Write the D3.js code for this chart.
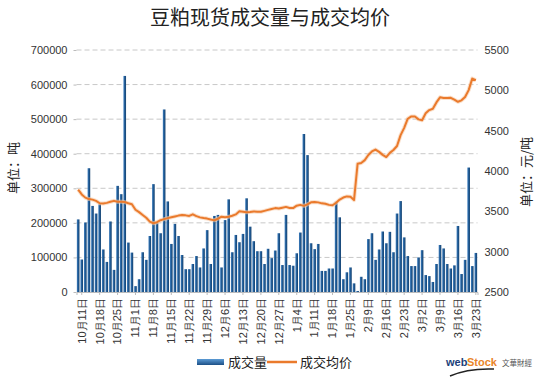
<!DOCTYPE html>
<html><head><meta charset="utf-8">
<script src="https://cdn.jsdelivr.net/npm/d3@7"></script>
<style>
body{margin:0;background:#fff;}
svg{display:block;font-family:"Noto Sans CJK SC","Noto Sans",sans-serif;}
</style></head>
<body><svg id="c" width="542" height="382"></svg>
<script>
const volume = [210000,94000,201000,358000,249000,227000,254000,123000,87000,204000,
64000,307000,283000,625000,143000,114000,17000,37000,115000,93000,
162000,312000,199000,170000,528000,262000,139000,197000,162000,107000,
66000,66000,81000,104000,71000,126000,179000,81000,220000,223000,
71000,208000,268000,115000,165000,144000,168000,271000,189000,147000,
118000,118000,81000,125000,98000,120000,170000,78000,223000,78000,
76000,112000,172000,457000,396000,141000,124000,139000,61000,61000,
68000,68000,261000,216000,37000,57000,71000,25000,3000,44000,
37000,153000,170000,93000,123000,175000,141000,174000,115000,227000,
263000,158000,104000,75000,75000,100000,121000,49000,46000,29000,
81000,136000,126000,81000,68000,77000,191000,52000,93000,360000,
75000,113000];
const price = [3770,3710,3670,3652,3645,3630,3600,3598,3605,3618,
3630,3618,3620,3615,3600,3588,3520,3490,3455,3420,
3372,3352,3365,3390,3403,3416,3426,3437,3447,3455,
3450,3443,3463,3440,3425,3417,3410,3398,3388,3408,
3433,3428,3432,3445,3462,3500,3495,3490,3492,3498,
3496,3494,3506,3518,3530,3540,3535,3545,3555,3542,
3540,3570,3580,3568,3586,3612,3616,3611,3599,3593,
3580,3575,3607,3646,3671,3685,3682,3640,4090,4100,
4135,4198,4242,4265,4237,4200,4173,4225,4260,4310,
4445,4535,4648,4677,4675,4640,4630,4715,4755,4771,
4850,4913,4904,4906,4908,4884,4858,4876,4918,5003,
5145,5125];
const tickLabels = ["10月11日","10月18日","10月25日","11月1日","11月8日","11月15日","11月22日","11月29日",
"12月6日","12月13日","12月20日","12月27日","1月4日","1月11日","1月18日","1月25日",
"2月9日","2月16日","2月23日","3月2日","3月9日","3月16日","3月23日"];
const leftTicks = [0,100000,200000,300000,400000,500000,600000,700000];
const rightTicks = [2500,3000,3500,4000,4500,5000,5500];
const title = "豆粕现货成交量与成交均价";
const seriesNames = ["成交量","成交均价"];

const svg = d3.select("#c");
const L = 76.5, R = 477.5, T = 50, B = 292;
const idx = d3.range(volume.length);
const x = d3.scaleBand().domain(idx).range([L, R]).paddingInner(0.27).paddingOuter(0.1);
const yL = d3.scaleLinear().domain([0, 700000]).range([B, T]);
const yR = d3.scaleLinear().domain([2500, 5500]).range([B, T]);

const defs = svg.append("defs");
const g1 = defs.append("linearGradient").attr("id","barG").attr("x1","0").attr("x2","1").attr("y1","0").attr("y2","0");
g1.append("stop").attr("offset","0").attr("stop-color","#3f7fbf");
g1.append("stop").attr("offset","0.5").attr("stop-color","#1f5a94");
g1.append("stop").attr("offset","1").attr("stop-color","#17426e");
const g2 = defs.append("linearGradient").attr("id","legG").attr("x1","0").attr("x2","0").attr("y1","0").attr("y2","1");
g2.append("stop").attr("offset","0").attr("stop-color","#5b9bd5");
g2.append("stop").attr("offset","1").attr("stop-color","#1c4f86");

// title
svg.append("text").attr("x", 270).attr("y", 25).attr("text-anchor","middle")
  .attr("font-size", 20).attr("fill","#222").text(title);

// gridlines
svg.append("g").selectAll("line").data(leftTicks.filter(d=>d>0)).join("line")
  .attr("x1", L).attr("x2", R).attr("y1", d=>yL(d)).attr("y2", d=>yL(d))
  .attr("stroke","#c8c8c8").attr("stroke-dasharray","5,3").attr("stroke-width",1);

// left axis
const axL = d3.axisLeft(yL).tickValues(leftTicks).tickFormat(d3.format("d")).tickSize(3).tickPadding(6);
const gL = svg.append("g").attr("transform",`translate(${L},0)`).call(axL);
gL.select(".domain").remove();
gL.selectAll("line").attr("stroke","#bbb");
gL.selectAll("text").attr("font-size",11).attr("fill","#333").attr("font-family","Arial, 'Liberation Sans', sans-serif");

// right axis
const axR = d3.axisRight(yR).tickValues(rightTicks).tickFormat(d3.format("d")).tickSize(0).tickPadding(7);
const gR = svg.append("g").attr("transform",`translate(${R},0)`).call(axR);
gR.select(".domain").remove();
gR.selectAll("text").attr("font-size",11).attr("fill","#333").attr("font-family","Arial, 'Liberation Sans', sans-serif");

// bars
svg.append("g").selectAll("rect").data(idx).join("rect")
  .attr("x", i=>x(i)).attr("width", x.bandwidth())
  .attr("y", i=>yL(volume[i])).attr("height", i=>B - yL(volume[i]))
  .attr("fill","url(#barG)");

// x axis
const tickIdx = tickLabels.map((_, k) => 1 + 5*k);
const axX = d3.axisBottom(x).tickValues(tickIdx).tickFormat((d)=>tickLabels[(d-1)/5]).tickSize(3).tickPadding(2);
const gX = svg.append("g").attr("transform",`translate(0,${B})`).call(axX);
gX.select(".domain").attr("stroke","#bbb");
gX.selectAll("line").attr("stroke","#bbb");
gX.selectAll("text").attr("font-size",11).attr("fill","#333")
  .attr("transform","rotate(-90)").attr("text-anchor","end")
  .attr("x",-6).attr("y",0).attr("dy","0.35em");

// line
const line = d3.line().x((d,i)=>x(i)+x.bandwidth()/2).y(d=>yR(d));
svg.append("path").datum(price).attr("d",line).attr("fill","none")
  .attr("stroke","#f6c9a6").attr("stroke-width",4).attr("stroke-opacity",0.6).attr("stroke-linejoin","round");
svg.append("path").datum(price).attr("d",line).attr("fill","none")
  .attr("stroke","#ea7a2c").attr("stroke-width",2).attr("stroke-linejoin","round");

// axis titles
svg.append("text").attr("transform","translate(18,168) rotate(-90)").attr("text-anchor","middle")
  .attr("font-size",13).attr("fill","#222").text("单位：吨");
svg.append("text").attr("transform","translate(531,172) rotate(-90)").attr("text-anchor","middle")
  .attr("font-size",13).attr("fill","#222").text("单位：元/吨");

// legend
const lg = svg.append("g");
lg.append("rect").attr("x",197).attr("y",359).attr("width",27).attr("height",6).attr("fill","url(#legG)");
lg.append("text").attr("x",228).attr("y",367).attr("font-size",13).attr("fill","#222").text(seriesNames[0]);
lg.append("line").attr("x1",267).attr("x2",297).attr("y1",362).attr("y2",362).attr("stroke","#ea7a2c").attr("stroke-width",2.5);
lg.append("text").attr("x",300).attr("y",367).attr("font-size",13).attr("fill","#222").text(seriesNames[1]);

// watermark
const wm = svg.append("g");
wm.append("text").attr("x",446).attr("y",366).attr("font-size",11).attr("font-weight","bold")
  .attr("font-family","Arial, 'Liberation Sans', sans-serif").attr("fill","#1c3f7a").text("web");
wm.append("text").attr("x",467).attr("y",366).attr("font-size",11).attr("font-weight","bold")
  .attr("font-family","Arial, 'Liberation Sans', sans-serif").attr("fill","#e9852a").text("Stock");
wm.append("text").attr("x",502).attr("y",366).attr("font-size",7.5).attr("fill","#555").text("文華財經");
wm.append("path").attr("d","M450,376 Q468,368 494,369").attr("fill","none").attr("stroke","#222").attr("stroke-width",1.5);
</script></body></html>
